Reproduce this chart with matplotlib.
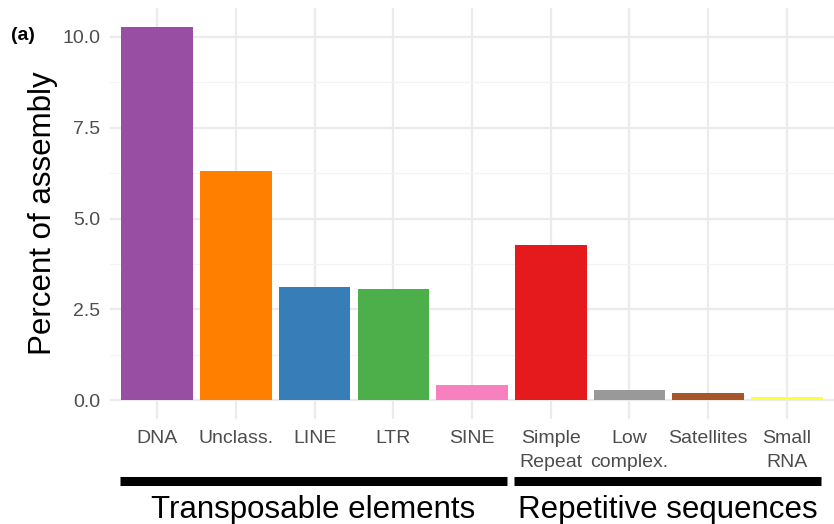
import matplotlib.pyplot as plt
import matplotlib.transforms as mtransforms
import numpy as np

plt.rcParams['font.family'] = ['Liberation Sans', 'DejaVu Sans']

# data
categories = ["DNA", "Unclass.", "LINE", "LTR", "SINE",
              "Simple\nRepeat", "Low\ncomplex.", "Satellites", "Small\nRNA"]
percent = [10.28, 6.31, 3.11, 3.06, 0.41, 4.27, 0.27, 0.21, 0.10]
colors = ["#984EA3", "#FF7F00", "#377EB8", "#4DAF4A", "#F781BF",
          "#E41A1C", "#999999", "#A65628", "#FFFF33"]
groups = ["Transposable elements", "Repetitive sequences"]
group_sizes = [5, 4]

fig = plt.figure(figsize=(8.34, 5.24), dpi=100)
ax = fig.add_axes([0.1319, 0.2004, 0.8681, 0.7843])

x = np.arange(1, len(categories) + 1)
ax.bar(x, percent, width=0.91, color=colors, zorder=3)

ax.set_xlim(0.4, len(categories) + 0.6)
ax.set_ylim(-0.05 * max(percent), max(percent) * 1.05)
ax.set_xticks(x)
ax.set_xticklabels(categories, fontsize=14, color="#4D4D4D", linespacing=1.55,
                   va="top")
ax.set_yticks([0, 2.5, 5, 7.5, 10])
ax.set_yticklabels(["0.0", "2.5", "5.0", "7.5", "10.0"], fontsize=14, color="#4D4D4D")
ax.set_yticks([1.25, 3.75, 6.25, 8.75], minor=True)
ax.tick_params(axis="both", which="both", length=0)
ax.tick_params(axis="x", pad=8)
ax.tick_params(axis="y", pad=7)

ax.grid(True, which="major", color="#EBEBEB", linewidth=1.6, zorder=0)
ax.grid(True, which="minor", axis="y", color="#F3F3F3", linewidth=0.9, zorder=0)
for s in ax.spines.values():
    s.set_visible(False)

ax.set_ylabel("Percent of assembly", fontsize=22.5, labelpad=3)
fig.text(0.013, 0.933, "(a)", fontsize=14, fontweight="bold", ha="left", va="center")

# group underlines and labels
trans = mtransforms.blended_transform_factory(ax.transData, fig.transFigure)
start = 0.5
for name, n in zip(groups, group_sizes):
    x0, x1 = start + 0.03, start + n - 0.06
    ax.plot([x0, x1], [0.082, 0.082], color="black", linewidth=6.5,
            solid_capstyle="butt", transform=trans, clip_on=False)
    ax.text((x0 + x1) / 2, 0.026, name, fontsize=22.5, ha="center", va="center",
            transform=trans)
    start += n

fig.savefig("out.png", dpi=100)
